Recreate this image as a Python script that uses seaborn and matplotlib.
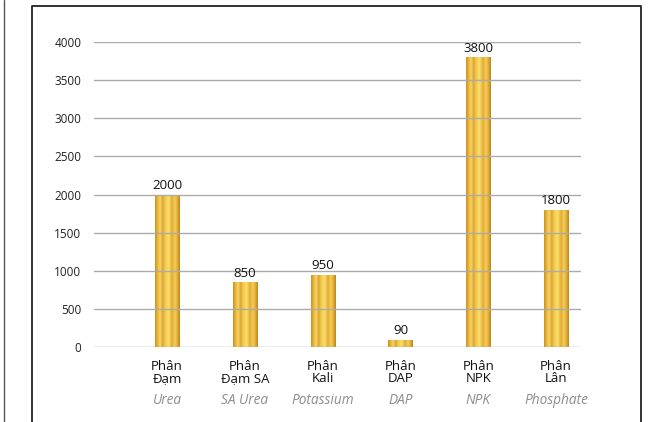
import numpy as np
import pandas as pd
import seaborn as sns
import matplotlib.pyplot as plt
from matplotlib.colors import LinearSegmentedColormap
from matplotlib.lines import Line2D

# Fertilizer volumes
categories_vi = ["Phân\nĐạm", "Phân\nĐạm SA", "Phân\nKali", "Phân\nDAP", "Phân\nNPK", "Phân\nLân"]
categories_en = ["Urea", "SA Urea", "Potassium", "DAP", "NPK", "Phosphate"]
values = [2000, 850, 950, 90, 3800, 1800]
y_ticks = [0, 500, 1000, 1500, 2000, 2500, 3000, 3500, 4000]

sns.set_theme(style="white")
plt.rcParams["font.family"] = ["Open Sans", "DejaVu Sans"]

df = pd.DataFrame({"cat": categories_en, "value": values})

fig = plt.figure(figsize=(6.5, 4.22), dpi=100)
W, H = 650, 422
ax = fig.add_axes([94 / W, (H - 347) / H, (581 - 94) / W, (347 - 42) / H])

sns.barplot(data=df, x="cat", y="value", ax=ax, width=0.31, color="#E8B838",
            edgecolor="none", zorder=2)

# Cylindrical gold shading across each bar
gold = LinearSegmentedColormap.from_list("gold", [
    (0.00, "#C8901E"), (0.10, "#E9B43A"), (0.22, "#F8D868"), (0.30, "#D8A030"),
    (0.40, "#F2C84C"), (0.55, "#FBE070"), (0.68, "#E2AA34"), (0.80, "#F5CF58"),
    (0.92, "#DDA532"), (1.00, "#B88018")])
grad = np.linspace(0, 1, 256).reshape(1, -1)
for p in ax.patches:
    x0, y0 = p.get_x(), p.get_y()
    w, h = p.get_width(), p.get_height()
    im = ax.imshow(grad, cmap=gold, aspect="auto", extent=[x0, x0 + w, y0, y0 + h],
                   zorder=2.5, interpolation="bicubic")
    im.set_clip_path(p)

ax.set_xlim(-0.938, 5.32)
ax.set_ylim(0, 4000)
ax.set_yticks(y_ticks)
ax.set_yticklabels([str(t) for t in y_ticks], fontsize=8.5, color="#222222")
ax.tick_params(axis="y", length=0, pad=9)
ax.tick_params(axis="x", length=0, pad=0)
ax.set_xticks(range(len(categories_vi)))
ax.set_xticklabels([])
for t in y_ticks:
    ax.axhline(t, color="#ABABAB", lw=1.0, zorder=3)
for s in ax.spines.values():
    s.set_visible(False)
ax.set_xlabel("")
ax.set_ylabel("")
ax.set_facecolor("none")

# Value labels above bars
for i, v in enumerate(values):
    ax.text(i, v + 35, f"{v}", ha="center", va="bottom", fontsize=9.5,
            color="#111111", zorder=4)

# Bilingual category labels
trans = ax.get_xaxis_transform()
for i, (vi, en) in enumerate(zip(categories_vi, categories_en)):
    ax.text(i, -0.042, vi, transform=trans, ha="center", va="top", fontsize=9.5,
            color="#111111", linespacing=0.9, clip_on=False)
    ax.text(i, -0.152, en, transform=trans, ha="center", va="top", fontsize=9.8,
            color="#8C8C8C", style="italic", clip_on=False)

# Frame around the chart area
fig.add_artist(Line2D([4 / W, 4 / W], [0, 1], color="#555555", lw=1.0))
fig.add_artist(Line2D([32 / W, 32 / W, 641 / W, 641 / W], [0, (H - 6) / H, (H - 6) / H, 0],
                      color="#222222", lw=1.3))

fig.savefig("out.png", dpi=100)
